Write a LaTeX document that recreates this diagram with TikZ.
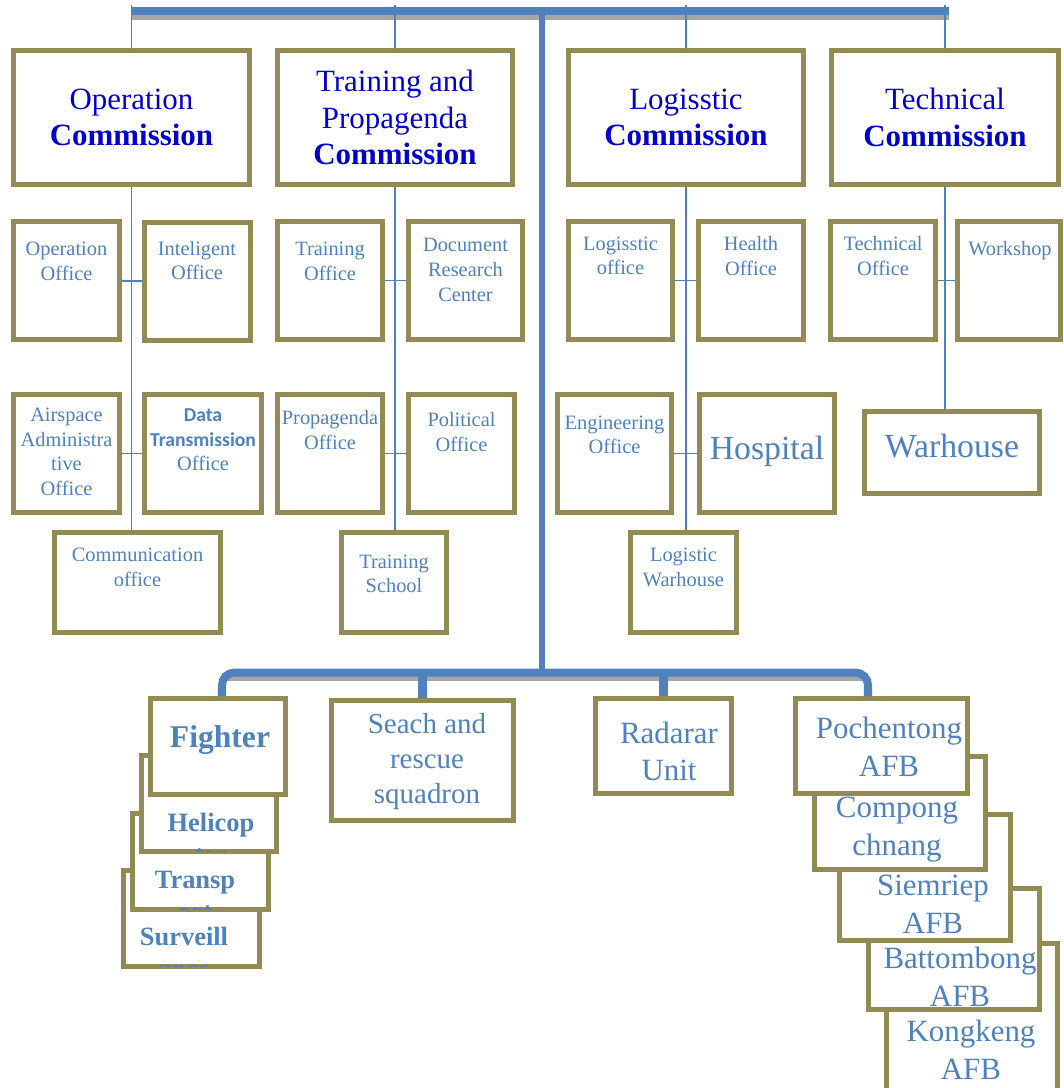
\documentclass[tikz,border=0pt]{standalone}
\usepackage{fontspec}
\setmainfont{Liberation Serif}
\newfontfamily\calibri{Carlito}
\definecolor{olivebox}{HTML}{948A54}
\definecolor{linkblue}{HTML}{4F81BD}
\definecolor{headblue}{HTML}{0000CC}
\definecolor{shadowgrey}{HTML}{A6A6A6}
\tikzstyle{obox}      = [draw=olivebox,line width=3.5pt,fill=white,inner sep=0pt]
\tikzstyle{headbox}   = [obox,text=headblue,align=center,font=\fontsize{22}{26}\selectfont]
\tikzstyle{otext}     = [text=linkblue,align=center,inner sep=0pt,font=\fontsize{14.5}{17.5}\selectfont]
\tikzstyle{bigtext}   = [text=linkblue,align=center,inner sep=0pt,font=\fontsize{24}{28}\selectfont]
\tikzstyle{unittext}  = [text=linkblue,align=center,inner sep=0pt,font=\fontsize{22}{27}\selectfont]
\tikzstyle{stacktext} = [text=linkblue,align=center,inner sep=0pt,font=\fontsize{18.8}{22.8}\selectfont\bfseries]
\tikzstyle{link}      = [draw=linkblue,line width=1pt]
\tikzstyle{bus}       = [draw=linkblue,line width=5.7pt]
\tikzstyle{trunk}     = [draw=linkblue,line width=4.3pt]
\tikzstyle{busshadow} = [draw=shadowgrey,line width=5.7pt]
\tikzset{boxsz/.style 2 args={minimum width=#1*0.025cm,minimum height=#2*0.025cm}}

\begin{document}
\begin{tikzpicture}[x=0.025cm,y=-0.025cm]
\useasboundingbox (0,0) rectangle (1064,1088);

\coordinate (busL) at (131.5,11);
\coordinate (busR) at (949,11);
\coordinate (topbus) at (542,11);
\coordinate (lowbus) at (542,672.5);
\coordinate (lbL) at (222,672.5);
\coordinate (lbR) at (868,672.5);
\coordinate (lineTop) at (542,5);

% commissions
\node[headbox,boxsz={236}{134}] (opc) at (131.5,117.5) {Operation\\\textbf{Commission}};
\node[headbox,boxsz={235}{134}] (trc) at (395,117.5)   {Training and\\Propagenda\\\textbf{Commission}};
\node[headbox,boxsz={235}{134}] (loc) at (686,117.5)   {Logisstic\\\textbf{Commission}};
\node[headbox,boxsz={227}{134}] (tec) at (945,117.5)   {Technical\\\textbf{Commission}};

% offices
\node[obox,boxsz={106}{118}] (opoff)   at (66.5,280.5)  {};
\node[obox,boxsz={106}{118}] (intoff)  at (197.5,281.5) {};
\node[obox,boxsz={105}{118}] (troff)   at (330,280.5)   {};
\node[obox,boxsz={114}{118}] (docoff)  at (465.5,280.5) {};
\node[obox,boxsz={104}{118}] (logoff)  at (620.5,280.5) {};
\node[obox,boxsz={105}{118}] (heaoff)  at (751,280.5)   {};
\node[obox,boxsz={105}{118}] (tecoff)  at (883,280.5)   {};
\node[obox,boxsz={103}{118}] (workoff) at (1009,280.5)  {};

\node[obox,boxsz={106}{118}] (airoff)  at (66.5,453.5)  {};
\node[obox,boxsz={117}{118}] (dataoff) at (203,453.5)   {};
\node[obox,boxsz={105}{118}] (propoff) at (330,453.5)   {};
\node[obox,boxsz={106}{118}] (poloff)  at (461.5,453.5) {};
\node[obox,boxsz={114}{118}] (engoff)  at (614.5,453.5) {};
\node[obox,boxsz={135}{118}] (hosp)    at (767,453.5)   {};
\node[obox,boxsz={175}{82}]  (warh)    at (952,452.5)   {};

\node[obox,boxsz={166}{100}] (comm)    at (137.5,582.5) {};
\node[obox,boxsz={105}{100}] (trsch)   at (394,582.5)   {};
\node[obox,boxsz={106}{100}] (logwar)  at (683.5,582.5) {};

\node[otext] (opoffT)   at (66.5,261.5) {Operation\\Office};
\node[otext] (intoffT)  at (197,260.5)  {Inteligent\\Office};
\node[otext] (troffT)   at (330,261.5)  {Training\\Office};
\node[otext] (docoffT)  at (465.5,270)  {Document\\Research\\Center};
\node[otext] (logoffT)  at (620.5,256)  {Logisstic\\office};
\node[otext] (heaoffT)  at (751,256)    {Health\\Office};
\node[otext] (tecoffT)  at (883,256)    {Technical\\Office};
\node[otext] (workoffT) at (1010,251)   {Workshop};
\node[otext] (airoffT)  at (66.5,452)   {Airspace\\Administra\\tive\\Office};
\node[otext] (dataoffT) at (203,440)    {{\calibri\bfseries\fontsize{14}{17.5}\selectfont Data}\\{\calibri\bfseries\fontsize{14}{17.5}\selectfont Transmission}\\Office};
\node[otext] (propoffT) at (330,430)    {Propagenda\\Office};
\node[otext] (poloffT)  at (461.5,432)  {Political\\Office};
\node[otext] (engoffT)  at (614.5,435)  {Engineering\\Office};
\node[bigtext] (hospT)  at (767,451)    {Hospital};
\node[bigtext] (warhT)  at (952,446)    {Warhouse};
\node[otext] (commT)    at (137.5,567.5) {Communication\\office};
\node[otext] (trschT)   at (394,574)    {Training\\School};
\node[otext] (logwarT)  at (683.5,567.5) {Logistic\\Warhouse};

% squadrons
\node[obox,boxsz={136}{96}] (surveill) at (191.5,918.5) {};
\begin{scope}
  \clip ([xshift=2pt,yshift=2pt]surveill.south west) rectangle ([xshift=-2pt,yshift=-2pt]surveill.north east);
  \node[stacktext] (surveillT) at (184,952) {Surveill\\ance};
\end{scope}
\node[obox,boxsz={136}{96}] (transp) at (200.5,861.5) {};
\begin{scope}
  \clip ([xshift=2pt,yshift=2pt]transp.south west) rectangle ([xshift=-2pt,yshift=-2pt]transp.north east);
  \node[stacktext] (transpT) at (195,896) {Transp\\ort};
\end{scope}
\node[obox,boxsz={135}{96}] (helicop) at (209,803.5) {};
\begin{scope}
  \clip ([xshift=2pt,yshift=2pt]helicop.south west) rectangle ([xshift=-2pt,yshift=-2pt]helicop.north east);
  \node[stacktext] (helicopT) at (211,838) {Helicop\\ter};
\end{scope}
\node[obox,boxsz={135}{96}] (fighter) at (218,746.5) {};
\node[stacktext,font=\fontsize{22.5}{26}\selectfont\bfseries] (fighterT) at (220,740) {Fighter};

\node[obox,boxsz={182}{120}] (seach) at (422.5,760.5) {};
\node[text=linkblue,align=center,inner sep=0pt,font=\fontsize{20.6}{25}\selectfont] (seachT) at (427,761.5) {Seach and\\rescue\\squadron};
\node[obox,boxsz={136}{95}] (radar) at (663.5,746) {};
\node[unittext,font=\fontsize{22}{26}\selectfont] (radarT) at (669,751.5) {Radarar\\Unit};

% air force bases
\node[obox,boxsz={171}{164}] (kong) at (972,1025.5) {};
\node[unittext] (kongT) at (971,1049.5) {Kongkeng\\AFB};
\node[obox,boxsz={171}{121}] (batt) at (954,949) {};
\node[unittext] (battT) at (960,977) {Battombong\\AFB};
\node[obox,boxsz={171}{126}] (siem) at (925,877.5) {};
\node[unittext] (siemT) at (933,904) {Siemriep\\AFB};
\node[obox,boxsz={171}{113}] (comp) at (900,813) {};
\node[unittext] (compT) at (897,830) {Compong\\chnang};
\node[obox,boxsz={172}{95}] (poch) at (881.5,746) {};
\node[unittext] (pochT) at (889,747) {Pochentong\\AFB};

% lines
\draw[busshadow] ([yshift=-3.5pt]busL) -- ([yshift=-3.5pt]busR);
\draw[bus] (busL) -- (busR);
\draw[link] (opc.north) -- (opc.north |- lineTop);
\draw[link] (trc.north) -- (trc.north |- lineTop);
\draw[link] (loc.north) -- (loc.north |- lineTop);
\draw[link] (tec.north) -- (tec.north |- lineTop);

\draw[link] (opc.south) -- (opc.south |- comm.north);
\draw[link] (trc.south) -- (trc.south |- trsch.north);
\draw[link] (loc.south) -- (loc.south |- logwar.north);
\draw[link] (tec.south) -- (tec.south |- warh.north);

\draw[link,line width=1.4pt] (opoff) -- (intoff);
\draw[link,line width=1.4pt] (airoff) -- (dataoff);
\draw[link,line width=1.4pt] (troff) -- (docoff);
\draw[link,line width=1.4pt] (propoff) -- (poloff);
\draw[link,line width=1.4pt] (logoff) -- (heaoff);
\draw[link,line width=1.4pt] (engoff) -- (hosp);
\draw[link,line width=1.4pt] (tecoff) -- (workoff);

\draw[trunk] (topbus) -- (lowbus);
\draw[busshadow] ([yshift=-3pt]lbL) -- ([yshift=-3pt]lbR);
\draw[bus,rounded corners=9pt] (lbL |- fighter.north) -- (lbL) -- (lbR) -- (lbR |- poch.north);
\draw[bus] (seach.north) -- (seach.north |- lbL);
\draw[bus] (radar.north) -- (radar.north |- lbL);

\end{tikzpicture}
\end{document}
